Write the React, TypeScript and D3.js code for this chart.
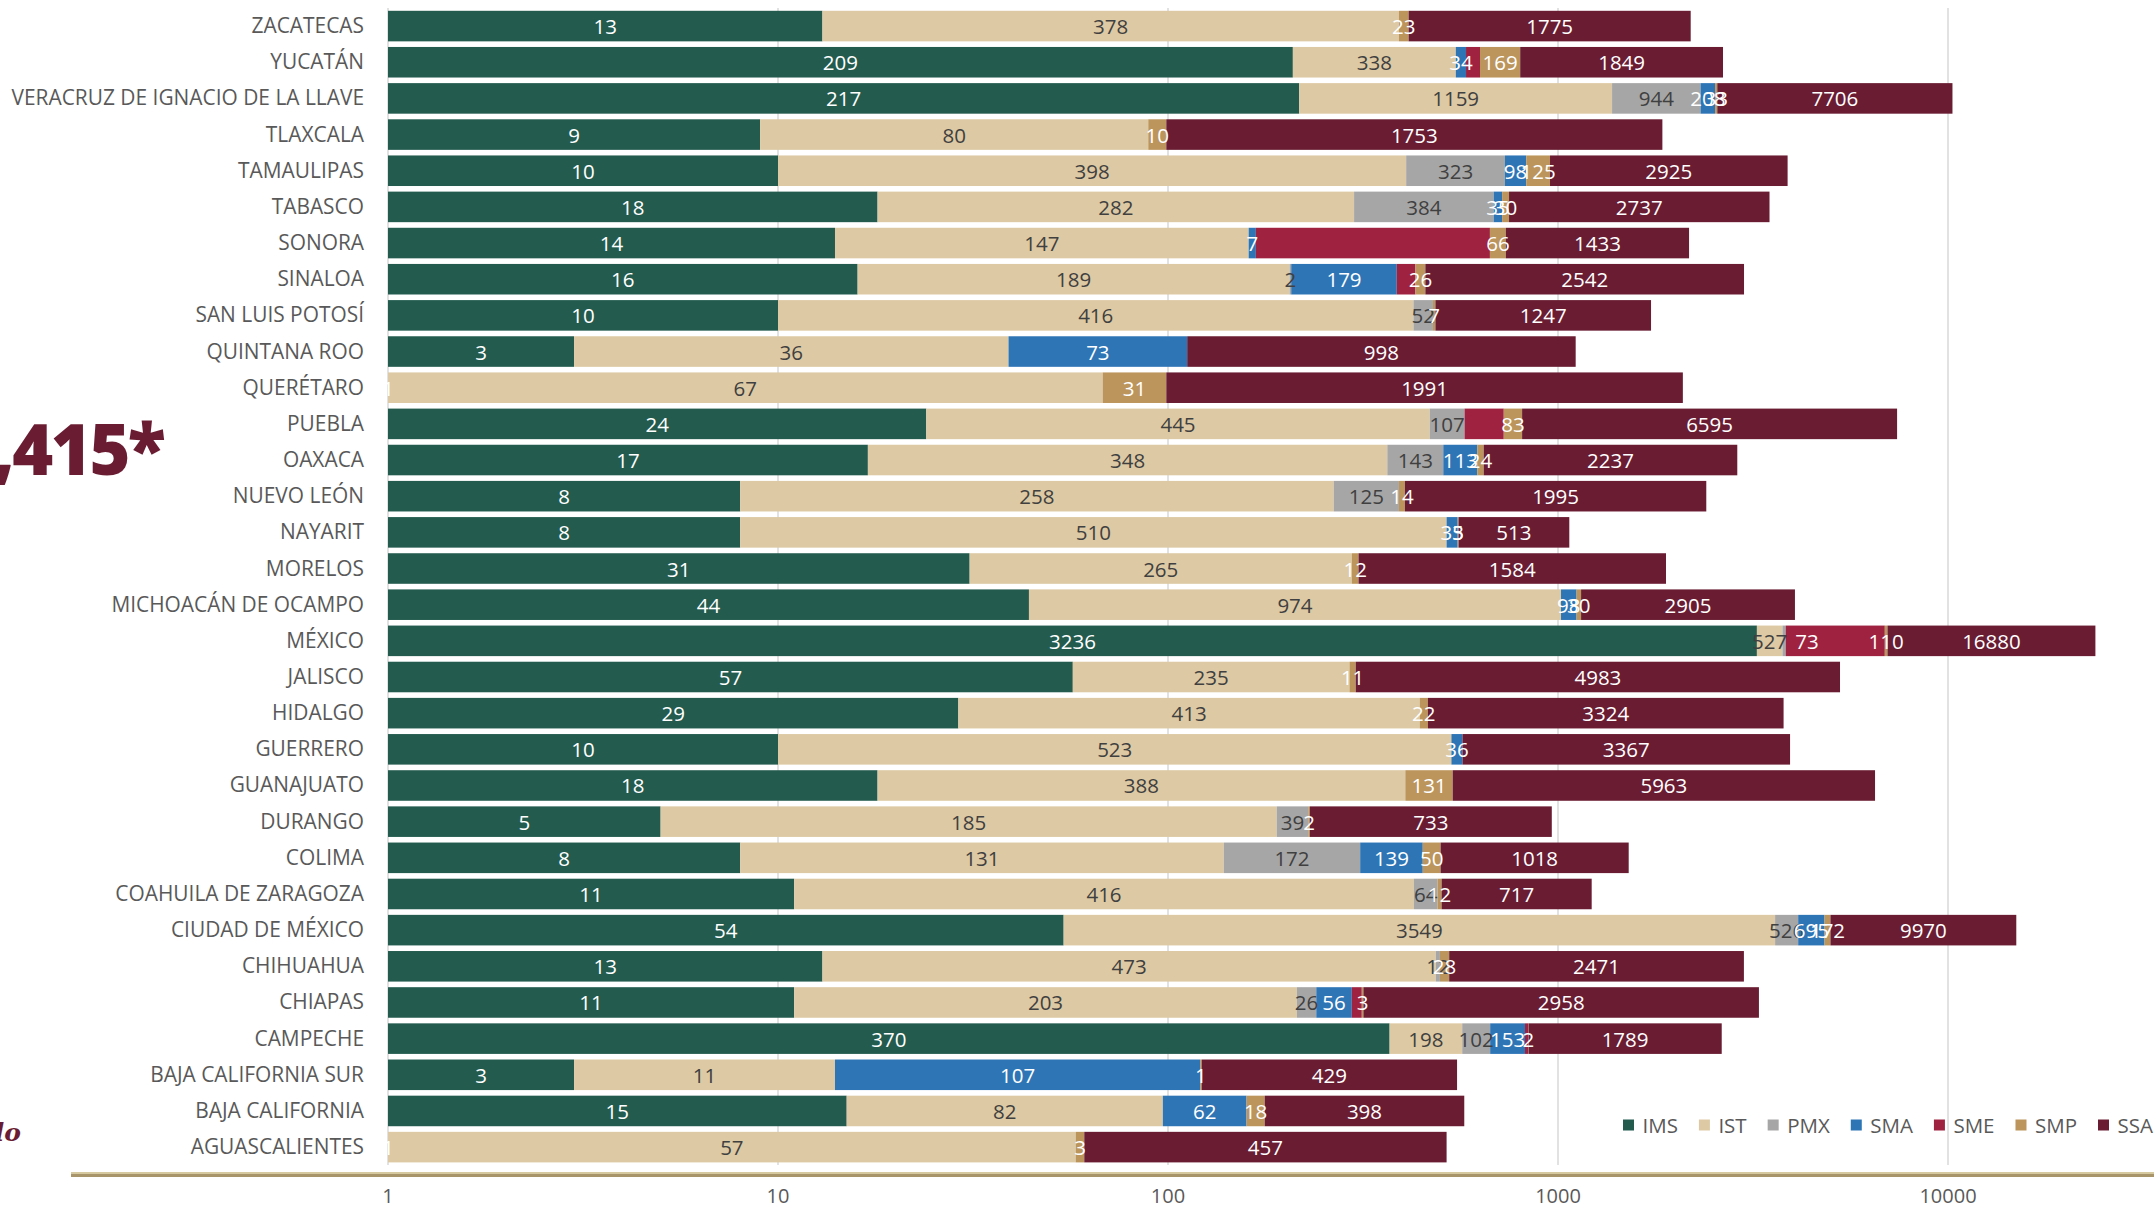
import { useEffect } from 'react';
import * as d3 from 'd3';

// estados, de arriba hacia abajo como en la lámina
const states = [
  'ZACATECAS', 'YUCATÁN', 'VERACRUZ DE IGNACIO DE LA LLAVE', 'TLAXCALA', 'TAMAULIPAS',
  'TABASCO', 'SONORA', 'SINALOA', 'SAN LUIS POTOSÍ', 'QUINTANA ROO', 'QUERÉTARO',
  'PUEBLA', 'OAXACA', 'NUEVO LEÓN', 'NAYARIT', 'MORELOS', 'MICHOACÁN DE OCAMPO',
  'MÉXICO', 'JALISCO', 'HIDALGO', 'GUERRERO', 'GUANAJUATO', 'DURANGO', 'COLIMA',
  'COAHUILA DE ZARAGOZA', 'CIUDAD DE MÉXICO', 'CHIHUAHUA', 'CHIAPAS', 'CAMPECHE',
  'BAJA CALIFORNIA SUR', 'BAJA CALIFORNIA', 'AGUASCALIENTES',
];

const IMS = [13, 209, 217, 9, 10, 18, 14, 16, 10, 3, 1, 24, 17, 8, 8, 31, 44, 3236, 57, 29, 10, 18, 5, 8, 11, 54, 13, 11, 370, 3, 15, 1];
const IST = [378, 338, 1159, 80, 398, 282, 147, 189, 416, 36, 67, 445, 348, 258, 510, 265, 974, 527, 235, 413, 523, 388, 185, 131, 416, 3549, 473, 203, 198, 11, 82, 57];
const PMX = [0, 0, 944, 0, 323, 384, 0, 2, 52, 0, 0, 107, 143, 125, 0, 0, 0, 73, 0, 0, 0, 0, 39, 172, 64, 526, 12, 26, 102, 0, 0, 0];
const SMA = [0, 34, 208, 0, 98, 35, 7, 179, 0, 73, 0, 0, 113, 0, 35, 0, 98, 0, 0, 0, 36, 0, 0, 139, 0, 695, 0, 56, 153, 107, 62, 0];
const SME = [0, 50, 0, 0, 0, 0, 501, 45, 0, 0, 0, 150, 0, 0, 0, 0, 0, 3050, 0, 0, 0, 0, 0, 0, 0, 0, 0, 18, 15, 0, 0, 0];
const SMP = [23, 169, 33, 10, 125, 30, 66, 26, 7, 0, 31, 83, 24, 14, 3, 12, 30, 110, 11, 22, 0, 131, 2, 50, 12, 172, 28, 3, 2, 1, 18, 3];
const SSA = [1775, 1849, 7706, 1753, 2925, 2737, 1433, 2542, 1247, 998, 1991, 6595, 2237, 1995, 513, 1584, 2905, 16880, 4983, 3324, 3367, 5963, 733, 1018, 717, 9970, 2471, 2958, 1789, 429, 398, 457];

const seriesKeys = ['IMS', 'IST', 'PMX', 'SMA', 'SME', 'SMP', 'SSA'];
const seriesValues = [IMS, IST, PMX, SMA, SME, SMP, SSA];
const seriesColors = ['#235B4E', '#DDC9A3', '#A6A6A6', '#2E75B6', '#9F2241', '#BC955C', '#691C32'];
// color de la etiqueta de cada serie (null = no se ve)
const labelColors = ['#ffffff', '#404040', '#404040', '#ffffff', null, '#ffffff', '#ffffff'];

const tickValues = [1, 10, 100, 1000, 10000];

// etiquetas movidas a mano en la lámina original
const labelNudges = [{ state: 'MÉXICO', key: 'PMX', dx: 23, color: '#ffffff' }];

const WIDTH = 2154;
const HEIGHT = 1208;
const FONT = "'Open Sans', 'Liberation Sans', sans-serif";

export default function App() {
  useEffect(() => {
    document.body.style.margin = '0';
    document.body.style.background = '#ffffff';
  }, []);

  const rows = states.map((s, i) => {
    const row: Record<string, number | string> = { state: s };
    seriesKeys.forEach((k, j) => { row[k] = seriesValues[j][i]; });
    return row;
  });

  const stacked = d3.stack<Record<string, number | string>>().keys(seriesKeys)(rows as any);

  const x = d3.scaleLog().domain([1, 100000]).range([388, 388 + 5 * 390]);
  const y = d3.scaleBand<string>().domain(states).range([8, 1165.2]).paddingInner(0.155).paddingOuter(0.0775);
  const bw = y.bandwidth();

  // leyenda: ancho de texto medido
  const ctx = document.createElement('canvas').getContext('2d')!;
  ctx.font = `20.5px ${FONT}`;
  let lx = 1623;
  const legendItems = seriesKeys.map((k, i) => {
    const item = { key: k, color: seriesColors[i], x: lx };
    lx += 19.5 + ctx.measureText(k).width + 21;
    return item;
  });

  return (
    <svg width={WIDTH} height={HEIGHT} style={{ display: 'block', background: '#fff' }}>
      {/* total parcial a la izquierda */}
      <text x={163} y={475} textAnchor="end" fontFamily={FONT} fontWeight={800} fontSize={70} letterSpacing={-2.5} fill="#691C32">,415*</text>
      <text x={21} y={1141} textAnchor="end" fontFamily="'DejaVu Serif', serif" fontStyle="italic" fontWeight="bold" fontSize={25} fill="#691C32">lo</text>

      {/* cuadrícula */}
      {tickValues.map(t => (
        <line key={t} x1={x(t)} x2={x(t)} y1={8} y2={1165} stroke="#D9D9D9" strokeWidth={1.5} />
      ))}

      {/* barras */}
      {stacked.map((layer, j) => (
        <g key={layer.key} fill={seriesColors[j]}>
          {layer.map((d, i) => {
            const v = seriesValues[j][i];
            if (!v) return null;
            const x0 = x(Math.max(d[0], 1));
            const x1 = x(Math.max(d[1], 1));
            return <rect key={i} x={x0} y={y(states[i])} width={Math.max(0, x1 - x0)} height={bw} />;
          })}
        </g>
      ))}

      {/* etiquetas de datos */}
      {stacked.map((layer, j) => (
        <g key={'l' + layer.key} fontFamily={FONT} fontSize={20.5} textAnchor="middle">
          {layer.map((d, i) => {
            const v = seriesValues[j][i];
            const nudge = labelNudges.find(n => n.state === states[i] && n.key === seriesKeys[j]);
            const color = nudge ? nudge.color : labelColors[j];
            if (!v || !color) return null;
            const cx = (x(Math.max(d[0], 1)) + x(Math.max(d[1], 1))) / 2 + (nudge ? nudge.dx : 0);
            const cy = (y(states[i]) as number) + bw / 2;
            return <text key={i} x={cx} y={cy + 8} fill={color}>{v}</text>;
          })}
        </g>
      ))}

      {/* categorías */}
      <g fontFamily={FONT} fontSize={20.9} fill="#595959" textAnchor="end">
        {states.map(s => (
          <text key={s} x={364} y={(y(s) as number) + bw / 2 + 7}>{s}</text>
        ))}
      </g>

      {/* línea dorada del eje */}
      <rect x={71} y={1172} width={WIDTH - 71} height={2} fill="#D6C9A0" />
      <rect x={71} y={1174} width={WIDTH - 71} height={3} fill="#A8966A" />

      {/* ticks */}
      <g fontFamily={FONT} fontSize={20} fill="#595959" textAnchor="middle">
        {tickValues.map(t => (
          <text key={t} x={x(t)} y={1203}>{t}</text>
        ))}
      </g>

      {/* leyenda */}
      <g fontFamily={FONT} fontSize={20.5} fill="#595959">
        {legendItems.map(it => (
          <g key={it.key}>
            <rect x={it.x} y={1119.5} width={11} height={11} fill={it.color} />
            <text x={it.x + 19.5} y={1132.5}>{it.key}</text>
          </g>
        ))}
      </g>
    </svg>
  );
}
